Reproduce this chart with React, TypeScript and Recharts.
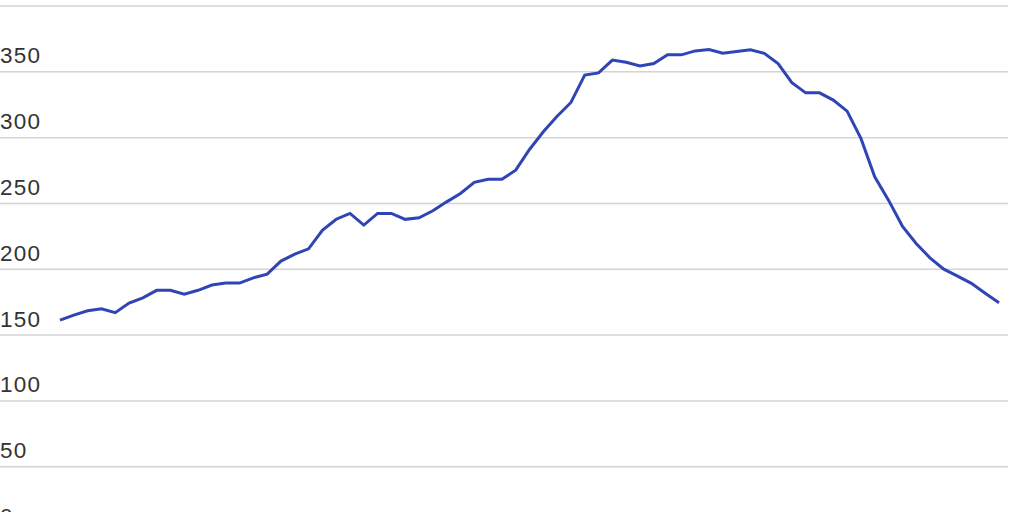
import { LineChart, Line, XAxis, YAxis, CartesianGrid } from "recharts"

// values, one per period
const values = [
  161.4, 165.2, 168.5, 170, 167, 174.3, 178.3, 184, 184, 181,
  184, 188, 189.5, 189.5, 193.5, 196.3, 206.2, 211.5, 215.5, 229.5,
  238, 242.4, 233.5, 242.4, 242.4, 237.9, 239.1, 244.4, 251.2, 257.6,
  266, 268.3, 268.3, 275.3, 291, 304.4, 316.3, 326.7, 347.5, 349.2,
  358.9, 357.3, 354.5, 356.3, 362.9, 362.9, 365.9, 367, 364.2, 365.5,
  366.7, 364, 356.3, 341.8, 334, 334, 328.5, 320.1, 299.4, 270.2,
  252.5, 232.8, 219.6, 208.7, 200.1, 194.8, 189.3, 181.7, 174.5,
]

const yTicks = [0, 50, 100, 150, 200, 250, 300, 350, 400]
// the top gridline has no label in view
const labelledTicks = [0, 50, 100, 150, 200, 250, 300, 350]

const data = values.map((value, i) => ({ period: i, value }))

function YTick(props: any) {
  const { y, payload } = props
  if (!labelledTicks.includes(payload.value)) return <g />
  return (
    <text
      x={0}
      y={y - 8.5}
      textAnchor="start"
      fill="#333"
      fontSize={22.5}
      letterSpacing={1.2}
      fontFamily="'Liberation Sans', Arial, sans-serif"
    >
      {payload.value}
    </text>
  )
}

export default function App() {
  return (
    <div style={{ position: "absolute", left: 0, top: 0 }}>
      <LineChart
        width={1024}
        height={560}
        data={data}
        margin={{ top: 6, right: 16, bottom: 27.5, left: 0 }}
      >
        <CartesianGrid vertical={false} stroke="#d4d4d4" strokeWidth={1.5} />
        <XAxis dataKey="period" hide padding={{ left: 60, right: 9 }} />
        <YAxis
          domain={[0, 400]}
          ticks={yTicks}
          mirror
          width={60}
          axisLine={false}
          tickLine={false}
          tick={(p: any) => <YTick {...p} />}
          interval={0}
        />
        <Line
          type="linear"
          dataKey="value"
          stroke="#2f45b5"
          strokeWidth={3}
          dot={false}
          isAnimationActive={false}
        />
      </LineChart>
    </div>
  )
}
